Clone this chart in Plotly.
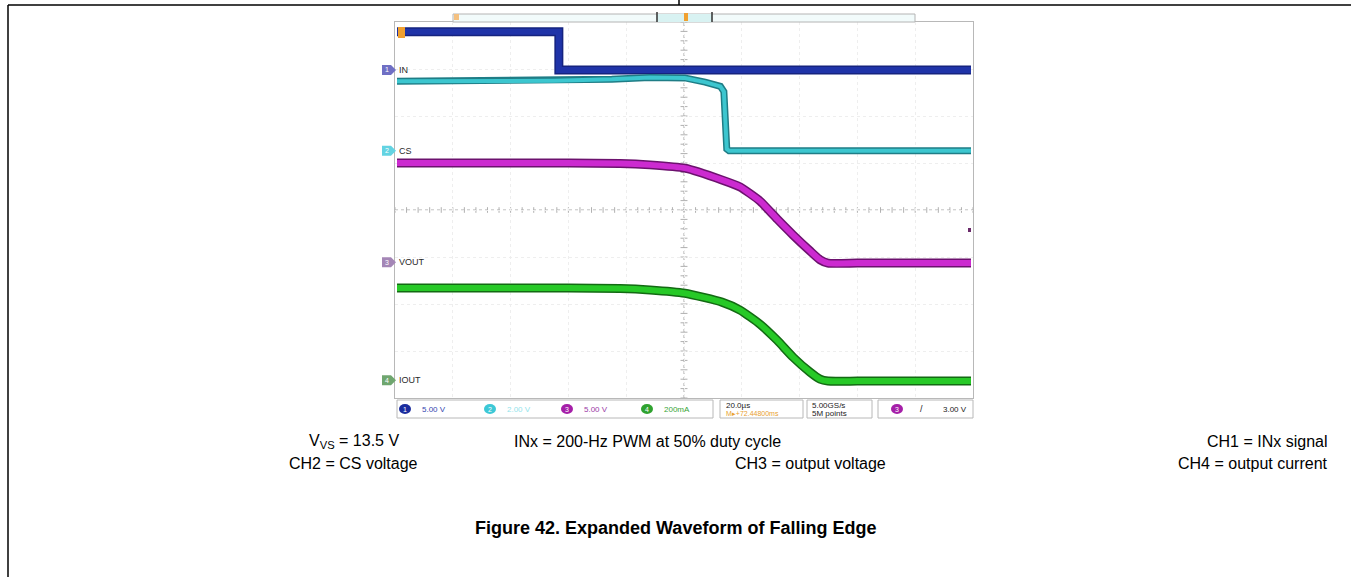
"""Expanded waveform of falling edge: scope capture redrawn with plotly."""

import plotly.graph_objects as go

W, H = 1351, 577

# ---------------------------------------------------------------------------
# Data: time in microseconds (20 us/div), amplitude in screen divisions
# ---------------------------------------------------------------------------
ch1_t = [-99.3, -43.3, -43.3, 99.3]
ch1_v = [3.79, 3.79, 2.98, 2.98]

ch2_t = [-99.3, -45.0, -25.0, -11.8, 0.3, 7.3, 12.6, 13.8, 14.8, 15.6, 99.3]
ch2_v = [2.74, 2.75, 2.78, 2.82, 2.81, 2.72, 2.63, 2.52, 1.30, 1.26, 1.26]

ch3_t = [-99.3, -60.0, -40.0, -22.1, -11.8, 0.3, 13.1, 19.4, 26.3, 32.2, 37.7, 43.6, 47.1, 49.8,
         60.0, 80.0, 99.3]
ch3_v = [1.00, 1.00, 1.00, 0.99, 0.96, 0.89, 0.64, 0.49, 0.19, -0.19, -0.53, -0.87, -1.06, -1.13,
         -1.13, -1.13, -1.13]

ch4_t = [-99.3, -60.0, -40.0, -22.1, -11.8, 0.3, 13.1, 19.4, 26.3, 32.2, 37.7, 43.6, 47.1, 49.8,
         60.0, 80.0, 99.3]
ch4_v = [-1.66, -1.66, -1.66, -1.67, -1.70, -1.77, -1.96, -2.13, -2.43, -2.77, -3.13, -3.45, -3.60, -3.64,
         -3.64, -3.64, -3.64]

channel_labels = ["IN", "CS", "VOUT", "IOUT"]
channel_levels = [2.98, 1.26, -1.11, -3.62]
channel_marks = ["#6f6fc4", "#63d3e2", "#a486b6", "#6fa66f"]

scale_texts = ["5.00 V", "2.00 V", "5.00 V", "200mA"]
scale_colors = ["#3446b0", "#92e4ec", "#9a3aa6", "#39a539"]
chan_colors = ["#1b2c9e", "#3cc8d6", "#a51fa8", "#2fa22f"]

# figure notes: (text, x pixel, anchor, y pixel)
notes = [
    ("V<sub>VS</sub> = 13.5 V", 401, "right", 441),
    ("INx = 200-Hz PWM at 50% duty cycle", 647, "center", 441),
    ("CH1 = INx signal", 1330, "right", 441),
    ("CH2 = CS voltage", 353, "center", 463),
    ("CH3 = output voltage", 888, "right", 463),
    ("CH4 = output current", 1330, "right", 463),
]
caption = "Figure 42. Expanded Waveform of Falling Edge"

# scope screen placement in pixels
SX0, SX1, SY0, SY1 = 395, 973, 22, 398


def px(x):
    return x / W


def py(y):
    return 1 - y / H


fig = go.Figure()


def band(t, v, edge, fill, w, shape="linear"):
    # dark outline under a lighter core gives the persistence-band look
    fig.add_trace(go.Scatter(x=t, y=v, mode="lines", line=dict(color=edge, width=w + 3, shape=shape,
                                                               smoothing=0.5), hoverinfo="skip"))
    fig.add_trace(go.Scatter(x=t, y=v, mode="lines", line=dict(color=fill, width=w, shape=shape,
                                                               smoothing=0.5), hoverinfo="skip"))


band(ch1_t, ch1_v, "#15237f", "#1f33a8", 6)
band(ch2_t, ch2_v, "#1f7d86", "#3cc6cf", 4)
band(ch3_t, ch3_v, "#6c126e", "#cc2ad0", 6, "spline")
band(ch4_t, ch4_v, "#136a13", "#27c927", 6, "spline")

shapes = []
annos = []

# centre crosshair with minor ticks
shapes.append(dict(type="line", xref="x", yref="y", x0=0, x1=0, y0=-4, y1=4,
                   line=dict(color="#a8a8a8", width=1, dash="dot"), layer="below"))
shapes.append(dict(type="line", xref="x", yref="y", x0=-100, x1=100, y0=0, y1=0,
                   line=dict(color="#a8a8a8", width=1, dash="dot"), layer="below"))
for k in range(-25, 26):
    shapes.append(dict(type="line", xref="x", yref="y", x0=4 * k, x1=4 * k, y0=-0.06, y1=0.06,
                       line=dict(color="#b0b0b0", width=1), layer="below"))
for k in range(-20, 21):
    shapes.append(dict(type="line", xref="x", yref="y", x0=-1.2, x1=1.2, y0=0.2 * k, y1=0.2 * k,
                       line=dict(color="#b0b0b0", width=1), layer="below"))

# page frame
shapes.append(dict(type="line", xref="paper", yref="paper", x0=px(8), x1=1, y0=py(5), y1=py(5),
                   line=dict(color="black", width=1.5)))
shapes.append(dict(type="line", xref="paper", yref="paper", x0=px(8), x1=px(8), y0=py(5), y1=0,
                   line=dict(color="black", width=1.5)))
shapes.append(dict(type="line", xref="paper", yref="paper", x0=px(679), x1=px(679), y0=1, y1=py(5),
                   line=dict(color="black", width=1.5)))

# top record strip
shapes.append(dict(type="rect", xref="paper", yref="paper", x0=px(453), x1=px(915), y0=py(22), y1=py(14),
                   line=dict(color="#b4b4b4", width=1), fillcolor="#f2fbfb"))
shapes.append(dict(type="rect", xref="paper", yref="paper", x0=px(657), x1=px(712), y0=py(22), y1=py(14),
                   line=dict(width=0), fillcolor="#d8f2f2"))
for xs in (657, 712):
    shapes.append(dict(type="line", xref="paper", yref="paper", x0=px(xs), x1=px(xs), y0=py(22), y1=py(12),
                       line=dict(color="#303030", width=1.5)))
shapes.append(dict(type="rect", xref="paper", yref="paper", x0=px(684), x1=px(688), y0=py(21), y1=py(13),
                   line=dict(width=0), fillcolor="#f0a030"))
shapes.append(dict(type="rect", xref="paper", yref="paper", x0=px(454), x1=px(459), y0=py(20), y1=py(14),
                   line=dict(width=0), fillcolor="#f4c080"))

# ch1 ground marker (orange) at top left
shapes.append(dict(type="rect", xref="paper", yref="paper", x0=px(398), x1=px(405), y0=py(38), y1=py(27),
                   line=dict(width=0), fillcolor="#f0a030"))
# trigger level marker on right edge
shapes.append(dict(type="rect", xref="paper", yref="paper", x0=px(968), x1=px(971), y0=py(232), y1=py(228),
                   line=dict(width=0), fillcolor="#6a2a6a"))

# channel markers and names on the left edge
for name, lev, col, num in zip(channel_labels, channel_levels, channel_marks, "1234"):
    ypx = (SY0 + SY1) / 2 - lev * (SY1 - SY0) / 8
    shapes.append(dict(type="path", xref="paper", yref="paper",
                       path=f"M {px(382)},{py(ypx - 5)} L {px(391)},{py(ypx - 5)} L {px(396)},{py(ypx)} "
                            f"L {px(391)},{py(ypx + 5)} L {px(382)},{py(ypx + 5)} Z",
                       line=dict(width=0), fillcolor=col))
    annos.append(dict(x=px(386.5), y=py(ypx), xref="paper", yref="paper", text=num, showarrow=False,
                      font=dict(size=7, color="white", family="Liberation Sans"), xanchor="center",
                      yanchor="middle"))
    annos.append(dict(x=px(397), y=py(ypx), xref="paper", yref="paper", text=name, showarrow=False,
                      font=dict(size=9, color="#2a2a2a", family="Liberation Sans"), xanchor="left",
                      yanchor="middle"))

# status bar boxes
for x0, x1 in ((397, 713), (720, 803), (807, 872), (878, 973)):
    shapes.append(dict(type="rect", xref="paper", yref="paper", x0=px(x0), x1=px(x1), y0=py(418), y1=py(400),
                       line=dict(color="#b8b8b8", width=1), fillcolor="white"))

small = dict(family="Liberation Sans", size=8)
for cx, num, ccol, txt, tcol in zip((405, 490, 567, 647), "1234", chan_colors, scale_texts, scale_colors):
    shapes.append(dict(type="circle", xref="paper", yref="paper", x0=px(cx - 6), x1=px(cx + 6),
                       y0=py(414), y1=py(404), line=dict(width=0), fillcolor=ccol))
    annos.append(dict(x=px(cx), y=py(409), xref="paper", yref="paper", text=num, showarrow=False,
                      font=dict(size=7, color="white", family="Liberation Sans"), xanchor="center",
                      yanchor="middle"))
    annos.append(dict(x=px(cx + 15), y=py(409), xref="paper", yref="paper", text=txt, showarrow=False,
                      font=dict(color=tcol, **small), xanchor="left", yanchor="middle"))

annos.append(dict(x=px(724), y=py(405), xref="paper", yref="paper", text="20.0µs", showarrow=False,
                  font=dict(color="#222222", **small), xanchor="left", yanchor="middle"))
annos.append(dict(x=px(724), y=py(413.5), xref="paper", yref="paper", text="M▸+72.44800ms", showarrow=False,
                  font=dict(family="Liberation Sans", size=7, color="#e8a030"), xanchor="left", yanchor="middle"))
annos.append(dict(x=px(810), y=py(405), xref="paper", yref="paper", text="5.00GS/s", showarrow=False,
                  font=dict(color="#222222", **small), xanchor="left", yanchor="middle"))
annos.append(dict(x=px(810), y=py(413.5), xref="paper", yref="paper", text="5M points", showarrow=False,
                  font=dict(color="#222222", **small), xanchor="left", yanchor="middle"))
shapes.append(dict(type="circle", xref="paper", yref="paper", x0=px(891), x1=px(903),
                   y0=py(414), y1=py(404), line=dict(width=0), fillcolor="#a51fa8"))
annos.append(dict(x=px(897), y=py(409), xref="paper", yref="paper", text="3", showarrow=False,
                  font=dict(size=7, color="white", family="Liberation Sans"), xanchor="center", yanchor="middle"))
annos.append(dict(x=px(921), y=py(409), xref="paper", yref="paper", text="/", showarrow=False,
                  font=dict(family="Liberation Sans", size=9, color="#222222"), xanchor="center",
                  yanchor="middle"))
annos.append(dict(x=px(969), y=py(409), xref="paper", yref="paper", text="3.00 V", showarrow=False,
                  font=dict(color="#222222", **small), xanchor="right", yanchor="middle"))

# figure notes and caption
note_font = dict(family="Liberation Sans, Arial, sans-serif", size=16, color="black")
for txt, xp, anchor, ypx in notes:
    annos.append(dict(x=px(xp), y=py(ypx), xref="paper", yref="paper", text=txt, showarrow=False,
                      font=note_font, xanchor=anchor, yanchor="middle"))
annos.append(dict(x=px(675), y=py(528), xref="paper", yref="paper", text=f"<b>{caption}</b>", showarrow=False,
                  font=dict(family="Liberation Sans, Arial, sans-serif", size=18, color="black"),
                  xanchor="center", yanchor="middle"))

fig.update_layout(
    width=W,
    height=H,
    margin=dict(l=0, r=0, t=0, b=0),
    paper_bgcolor="white",
    plot_bgcolor="white",
    showlegend=False,
    shapes=shapes,
    annotations=annos,
    xaxis=dict(domain=[px(SX0), px(SX1)], range=[-100, 100], dtick=20, tick0=-100,
               showgrid=True, gridcolor="#eeeeee", griddash="dot", zeroline=False,
               showticklabels=False, showline=True, linecolor="#b8b8b8", mirror=True, fixedrange=True),
    yaxis=dict(domain=[py(SY1), py(SY0)], range=[-4, 4], dtick=1, tick0=-4,
               showgrid=True, gridcolor="#eeeeee", griddash="dot", zeroline=False,
               showticklabels=False, showline=True, linecolor="#b8b8b8", mirror=True, fixedrange=True),
)

# the page body has a default 8px margin; drop it so the figure sits at the window origin
fig.write_html("out.html", config={"displayModeBar": False},
               post_script="document.body.style.margin='0';")
